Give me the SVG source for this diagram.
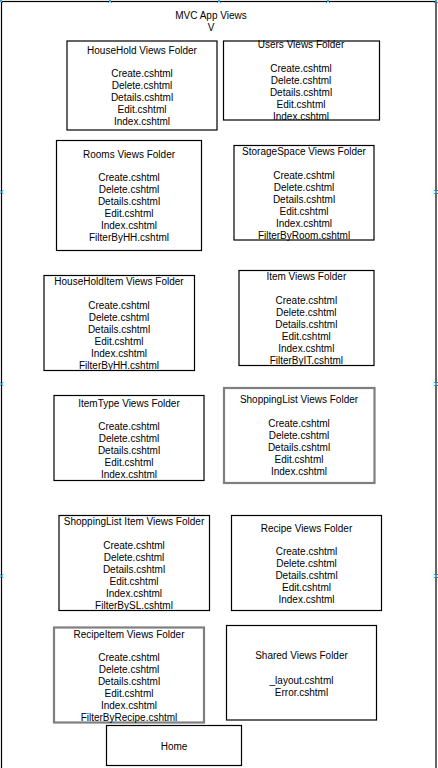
<svg xmlns="http://www.w3.org/2000/svg" width="438" height="768" viewBox="0 0 438 768">
  <style>
    .frame { fill: #ffffff; stroke: #000000; stroke-width: 1.2; }
    .box { fill: #ffffff; stroke: #000000; stroke-width: 1.2; }
    .box-gray { fill: #ffffff; stroke: #7f7f7f; stroke-width: 2.2; }
    .lbl { font-family: "Liberation Sans", Arial, sans-serif; font-size: 10px; fill: #000000; text-anchor: middle; }
    .pt { stroke: #29a8e0; stroke-width: 1; fill: none; }
  </style>
  <defs>
    <path id="xpt" class="pt" d="M-2,-2 L2,2 M-2,2 L2,-2"/>
  </defs>

  <rect width="438" height="768" fill="#ffffff"/>

  <!-- outer container -->
  <g id="mvc-app-views">
    <rect class="frame" x="1.5" y="1.5" width="434.5" height="780"/>
    <text class="lbl" x="211" y="18.6">MVC App Views<tspan x="211" dy="12">V</tspan></text>
    <!-- connection points -->
    <use href="#xpt" x="1" y="1"/>
    <use href="#xpt" x="110" y="1"/>
    <use href="#xpt" x="219" y="1"/>
    <use href="#xpt" x="328" y="1"/>
    <use href="#xpt" x="436" y="1"/>
    <use href="#xpt" x="1.5" y="192"/>
    <use href="#xpt" x="1.5" y="384"/>
    <use href="#xpt" x="1.5" y="576"/>
    <use href="#xpt" x="436" y="192"/>
    <use href="#xpt" x="436" y="384"/>
    <use href="#xpt" x="436" y="576"/>
  </g>

  <g id="household">
    <rect class="box" x="67" y="41" width="150" height="89"/>
    <text class="lbl" x="142" y="53.6">HouseHold Views Folder<tspan x="142" dy="23.5">Create.cshtml</tspan><tspan x="142" dy="12">Delete.cshtml</tspan><tspan x="142" dy="12">Details.cshtml</tspan><tspan x="142" dy="12">Edit.cshtml</tspan><tspan x="142" dy="12">Index.cshtml</tspan></text>
  </g>

  <g id="users">
    <rect class="box" x="223.5" y="41" width="156" height="79"/>
    <text class="lbl" x="301" y="48.1">Users Views Folder<tspan x="301" dy="24.2">Create.cshtml</tspan><tspan x="301" dy="12">Delete.cshtml</tspan><tspan x="301" dy="12">Details.cshtml</tspan><tspan x="301" dy="12">Edit.cshtml</tspan><tspan x="301" dy="12">Index.cshtml</tspan></text>
  </g>

  <g id="rooms">
    <rect class="box" x="56.5" y="140.5" width="145" height="110"/>
    <text class="lbl" x="129" y="157.6">Rooms Views Folder<tspan x="129" dy="23.5">Create.cshtml</tspan><tspan x="129" dy="12">Delete.cshtml</tspan><tspan x="129" dy="12">Details.cshtml</tspan><tspan x="129" dy="12">Edit.cshtml</tspan><tspan x="129" dy="12">Index.cshtml</tspan><tspan x="129" dy="12">FilterByHH.cshtml</tspan></text>
  </g>

  <g id="storage-space">
    <rect class="box" x="234" y="145.5" width="140" height="94.5"/>
    <text class="lbl" x="304" y="155.3">StorageSpace Views Folder<tspan x="304" dy="24">Create.cshtml</tspan><tspan x="304" dy="12">Delete.cshtml</tspan><tspan x="304" dy="12">Details.cshtml</tspan><tspan x="304" dy="12">Edit.cshtml</tspan><tspan x="304" dy="12">Index.cshtml</tspan><tspan x="304" dy="12">FilterByRoom.cshtml</tspan></text>
  </g>

  <g id="household-item">
    <rect class="box" x="44" y="275.5" width="150.5" height="95"/>
    <text class="lbl" x="119" y="285.3">HouseHoldItem Views Folder<tspan x="119" dy="23.3">Create.cshtml</tspan><tspan x="119" dy="12">Delete.cshtml</tspan><tspan x="119" dy="12">Details.cshtml</tspan><tspan x="119" dy="12">Edit.cshtml</tspan><tspan x="119" dy="12">Index.cshtml</tspan><tspan x="119" dy="12">FilterByHH.cshtml</tspan></text>
  </g>

  <g id="item">
    <rect class="box" x="239" y="270.5" width="135" height="95"/>
    <text class="lbl" x="306.3" y="280.3">Item Views Folder<tspan x="306.3" dy="24">Create.cshtml</tspan><tspan x="306.3" dy="12">Delete.cshtml</tspan><tspan x="306.3" dy="12">Details.cshtml</tspan><tspan x="306.3" dy="12">Edit.cshtml</tspan><tspan x="306.3" dy="12">Index.cshtml</tspan><tspan x="306.3" dy="12">FilterByIT.cshtml</tspan></text>
  </g>

  <g id="item-type">
    <rect class="box" x="54" y="395.5" width="150" height="85"/>
    <text class="lbl" x="129" y="406.6">ItemType Views Folder<tspan x="129" dy="23">Create.cshtml</tspan><tspan x="129" dy="12">Delete.cshtml</tspan><tspan x="129" dy="12">Details.cshtml</tspan><tspan x="129" dy="12">Edit.cshtml</tspan><tspan x="129" dy="12">Index.cshtml</tspan></text>
  </g>

  <g id="shopping-list">
    <rect class="box-gray" x="224" y="388" width="150.5" height="95"/>
    <text class="lbl" x="299" y="403.3">ShoppingList Views Folder<tspan x="299" dy="23.6">Create.cshtml</tspan><tspan x="299" dy="12">Delete.cshtml</tspan><tspan x="299" dy="12">Details.cshtml</tspan><tspan x="299" dy="12">Edit.cshtml</tspan><tspan x="299" dy="12">Index.cshtml</tspan></text>
  </g>

  <g id="shopping-list-item">
    <rect class="box" x="59" y="515.5" width="150.5" height="95"/>
    <text class="lbl" x="134" y="525.3">ShoppingList Item Views Folder<tspan x="134" dy="24">Create.cshtml</tspan><tspan x="134" dy="12">Delete.cshtml</tspan><tspan x="134" dy="12">Details.cshtml</tspan><tspan x="134" dy="12">Edit.cshtml</tspan><tspan x="134" dy="12">Index.cshtml</tspan><tspan x="134" dy="12">FilterBySL.cshtml</tspan></text>
  </g>

  <g id="recipe">
    <rect class="box" x="231.5" y="515.5" width="150" height="95"/>
    <text class="lbl" x="306.5" y="531.6">Recipe Views Folder<tspan x="306.5" dy="23.7">Create.cshtml</tspan><tspan x="306.5" dy="12">Delete.cshtml</tspan><tspan x="306.5" dy="12">Details.cshtml</tspan><tspan x="306.5" dy="12">Edit.cshtml</tspan><tspan x="306.5" dy="12">Index.cshtml</tspan></text>
  </g>

  <g id="recipe-item">
    <rect class="box-gray" x="54" y="627.5" width="150" height="95"/>
    <text class="lbl" x="129" y="637.6">RecipeItem Views Folder<tspan x="129" dy="23.7">Create.cshtml</tspan><tspan x="129" dy="12">Delete.cshtml</tspan><tspan x="129" dy="12">Details.cshtml</tspan><tspan x="129" dy="12">Edit.cshtml</tspan><tspan x="129" dy="12">Index.cshtml</tspan><tspan x="129" dy="12">FilterByRecipe.cshtml</tspan></text>
  </g>

  <g id="shared">
    <rect class="box" x="226.5" y="625.5" width="150" height="94.5"/>
    <text class="lbl" x="301.5" y="658.9">Shared Views Folder<tspan x="301.5" dy="24.7">_layout.cshtml</tspan><tspan x="301.5" dy="12">Error.cshtml</tspan></text>
  </g>

  <g id="home">
    <rect class="box" x="106.5" y="725.5" width="135" height="40"/>
    <text class="lbl" x="174" y="749.6">Home</text>
  </g>

  <g id="connectors"/>
</svg>
